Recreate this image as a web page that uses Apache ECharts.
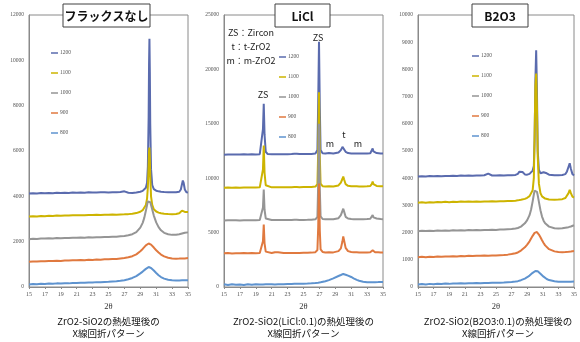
<!DOCTYPE html>
<html><head><meta charset="utf-8">
<script src="https://cdn.jsdelivr.net/npm/echarts@6/dist/echarts.min.js"></script>
<style>html,body{margin:0;padding:0;background:#fff}#c{width:580px;height:342px}</style>
</head><body><div id="c"></div>
<script>
const temps = ['1200','1100','1000','900','800'];
const xTicks = [15,17,19,21,23,25,27,29,31,33,35];
const panelTitles = ['フラックスなし','LiCl','B2O3'];
const captionLine1 = ['ZrO2-SiO2の熱処理後の','ZrO2-SiO2(LiCl:0.1)の熱処理後の','ZrO2-SiO2(B2O3:0.1)の熱処理後の'];
const captionLine2 = 'X線回折パターン';
const yMax = [12000, 25000, 10000];
const yStep = [2000, 5000, 1000];

// Panel 1: no flux
const p1X = [15,15.5,16,16.5,17,17.5,18,18.5,19,19.5,20,20.5,21,21.5,22,22.5,23,23.5,24,24.5,25,25.5,26,26.5,27,27.5,28,28.5,29,29.3,29.5,29.7,29.85,29.95,30.05,30.1,30.15,30.2,30.25,30.35,30.5,30.7,31,31.3,31.6,32,32.5,33,33.5,33.9,34.1,34.25,34.35,34.45,34.6,34.8,35];
const p1_1200 = [4130,4140,4125,4145,4135,4150,4140,4155,4145,4160,4150,4165,4155,4170,4160,4175,4165,4170,4175,4180,4170,4185,4175,4190,4220,4160,4150,4170,4200,4240,4290,4380,4600,5300,7500,9800,10950,9500,7200,5200,4500,4320,4250,4220,4200,4190,4180,4175,4180,4200,4300,4550,4700,4600,4300,4180,4170];
const p1_1100 = [3110,3120,3110,3130,3125,3140,3130,3150,3140,3155,3150,3165,3160,3170,3165,3180,3175,3185,3180,3190,3185,3195,3190,3200,3205,3215,3230,3260,3320,3390,3470,3620,3900,4400,5400,6000,6150,5700,4900,4000,3620,3430,3330,3280,3250,3230,3220,3215,3225,3250,3300,3370,3390,3360,3310,3300,3310];
const p1_1000 = [2110,2130,2120,2140,2135,2150,2145,2160,2150,2165,2160,2175,2170,2180,2175,2190,2185,2200,2195,2210,2205,2215,2220,2235,2250,2280,2330,2420,2620,2830,3050,3360,3620,3780,3850,3860,3840,3800,3740,3620,3420,3150,2850,2640,2500,2390,2330,2300,2310,2330,2350,2360,2370,2380,2390,2400,2410];
const p1_900 = [1110,1130,1120,1140,1135,1150,1145,1160,1150,1170,1165,1180,1175,1190,1185,1200,1195,1210,1205,1220,1225,1235,1240,1260,1280,1310,1360,1440,1580,1680,1760,1840,1880,1905,1920,1920,1915,1910,1900,1870,1820,1740,1620,1520,1430,1350,1290,1260,1250,1255,1250,1260,1255,1265,1260,1270,1275];
const p1_800 = [110,130,120,140,130,150,140,160,150,170,160,180,175,190,185,200,195,215,210,225,230,245,255,275,300,340,400,480,600,680,740,800,840,865,880,880,875,870,860,840,800,730,620,520,440,370,320,295,285,290,285,295,290,300,295,305,300];

// Panel 2: LiCl
const p2X = [15,15.5,16,16.5,17,17.5,18,18.5,19,19.5,19.75,19.9,20,20.1,20.25,20.5,21,21.4,21.6,21.8,22,22.5,23,23.5,23.85,24,24.15,24.5,25,25.5,26,26.5,26.75,26.85,26.95,27.05,27.15,27.4,27.75,28,28.2,28.4,28.75,29,29.4,29.7,29.9,30,30.1,30.3,30.6,31,31.3,31.5,31.7,32,32.5,33,33.4,33.6,33.7,33.8,34,34.2,34.4,34.7,35];
const p2_1200 = [12160,12180,12170,12185,12175,12190,12180,12195,12185,12210,12380,14500,16850,14000,12430,12220,12200,12210,12205,12200,12205,12210,12205,12215,12240,12360,12240,12220,12225,12230,12235,12270,12580,17000,22550,16500,12580,12300,12270,12270,12320,12270,12270,12290,12360,12580,12880,13020,12830,12430,12310,12280,12280,12320,12280,12270,12270,12280,12300,12480,12730,12460,12320,12310,12290,12280,12270];
const p2_1100 = [9120,9140,9125,9135,9130,9145,9135,9150,9140,9160,9300,10800,13000,10500,9350,9180,9160,9170,9165,9160,9165,9170,9160,9175,9180,9220,9180,9175,9180,9185,9190,9230,9450,12500,17900,12000,9500,9270,9240,9230,9260,9230,9240,9260,9330,9600,9950,10150,9900,9450,9300,9260,9250,9260,9250,9240,9245,9250,9280,9480,9700,9450,9300,9290,9270,9260,9250];
const p2_1000 = [6120,6140,6125,6135,6120,6140,6130,6145,6135,6160,6250,7300,8950,7100,6300,6170,6150,6160,6170,6155,6150,6160,6155,6165,6180,6270,6180,6160,6165,6170,6180,6220,6450,9500,15000,9000,6500,6250,6220,6210,6230,6210,6220,6250,6320,6600,7000,7200,6950,6450,6290,6240,6230,6240,6230,6220,6230,6240,6270,6450,6620,6400,6280,6300,6250,6240,6230];
const p2_900 = [3100,3120,3090,3110,3100,3120,3105,3115,3110,3130,3200,4200,5750,4000,3250,3130,3120,3200,3330,3200,3130,3120,3130,3125,3130,3160,3130,3130,3140,3150,3160,3200,3400,5500,9500,5200,3450,3220,3180,3170,3190,3170,3180,3220,3300,3550,4200,4650,4300,3600,3300,3220,3200,3210,3190,3180,3170,3175,3200,3300,3380,3280,3200,3260,3190,3170,3180];
const p2_800 = [250,180,260,200,240,190,260,210,250,220,240,230,250,235,245,230,260,240,255,250,270,260,280,275,290,285,295,300,310,320,340,370,390,400,410,420,430,470,530,580,630,690,800,880,1010,1100,1160,1200,1170,1130,1050,920,800,720,660,580,490,440,430,430,435,430,440,445,450,460,470];

// Panel 3: B2O3
const p3X = [15,15.5,16,16.5,17,17.5,18,18.5,19,19.5,20,20.5,21,21.5,22,22.5,23,23.5,24,24.5,25,25.5,26,26.5,27,27.5,27.8,28,28.2,28.4,28.7,29,29.3,29.5,29.7,29.85,29.95,30.05,30.15,30.25,30.35,30.5,30.7,30.9,31.1,31.3,31.5,31.8,32,32.5,33,33.5,33.9,34.1,34.3,34.45,34.6,34.8,35];
const p3_1200 = [4060,4075,4065,4080,4070,4085,4075,4085,4080,4090,4085,4095,4090,4095,4090,4100,4095,4110,4170,4100,4100,4105,4100,4110,4105,4120,4160,4240,4300,4230,4140,4130,4160,4200,4280,4450,5400,7600,8700,7200,5000,4300,4180,4180,4220,4240,4180,4130,4115,4110,4110,4120,4150,4250,4420,4550,4350,4150,4100];
const p3_1100 = [3100,3115,3100,3120,3110,3125,3115,3130,3120,3135,3125,3140,3130,3145,3135,3140,3135,3145,3140,3150,3145,3150,3150,3160,3165,3175,3185,3195,3205,3215,3240,3280,3340,3400,3560,4000,5600,7400,7850,6600,4800,3800,3450,3330,3280,3250,3235,3220,3215,3210,3215,3230,3270,3330,3450,3570,3450,3320,3290];
const p3_1000 = [2050,2065,2055,2070,2060,2075,2065,2080,2070,2085,2075,2090,2080,2095,2085,2095,2090,2100,2095,2105,2100,2110,2110,2120,2130,2150,2170,2190,2220,2260,2340,2460,2640,2850,3150,3400,3540,3590,3580,3500,3370,3130,2820,2590,2440,2340,2280,2220,2190,2160,2150,2160,2180,2190,2200,2210,2225,2245,2270];
const p3_900 = [1090,1110,1095,1115,1105,1120,1110,1125,1120,1130,1125,1140,1135,1145,1140,1150,1145,1155,1150,1160,1160,1170,1175,1190,1210,1240,1270,1300,1340,1380,1460,1560,1680,1780,1880,1950,1990,2020,2030,2020,1990,1930,1830,1720,1620,1530,1460,1390,1360,1310,1290,1280,1285,1290,1295,1300,1305,1310,1320];
const p3_800 = [90,110,95,115,100,120,110,125,115,130,125,135,130,140,135,145,140,150,150,155,155,160,165,175,185,200,215,230,250,270,310,360,420,470,520,555,575,590,595,590,575,545,490,430,380,330,295,255,235,210,195,190,190,190,195,190,195,195,200];

const colorMap = {'1200':'#5A6BAE','1100':'#CDB400','1000':'#959595','900':'#E0793F','800':'#5E93CF'};
const panels = [
  {x:p1X, ys:[p1_1200,p1_1100,p1_1000,p1_900,p1_800]},
  {x:p2X, ys:[p2_1200,p2_1100,p2_1000,p2_900,p2_800]},
  {x:p3X, ys:[p3_1200,p3_1100,p3_1000,p3_900,p3_800]}
];

const gridPos = [
  {left:29, top:15, width:159, height:272},
  {left:224, top:15, width:159, height:272},
  {left:418, top:15, width:160, height:272}
];
const legendPos = [{left:51, top:49},{left:279, top:53},{left:472, top:52}];
const centers = [108.5, 303.5, 498];
const boxes = [{x:63,w:87},{x:275,w:55},{x:472,w:56}];

const series = [];
panels.forEach((p, pi) => {
  temps.forEach((t, ti) => {
    series.push({
      type:'line', name:t, xAxisIndex:pi, yAxisIndex:pi,
      data: p.x.map((xv, i) => [xv, p.ys[ti][i]]),
      showSymbol:false, symbol:'none', smooth:false,
      lineStyle:{width:2, color:colorMap[t]}, itemStyle:{color:colorMap[t]},
      emphasis:{disabled:true}
    });
  });
});

const axisFont = 'Liberation Serif';
const xAxes = gridPos.map((g, i) => ({
  type:'value', gridIndex:i, min:15, max:35,
  axisLine:{show:true, lineStyle:{color:'#8a8a8a', width:1}},
  axisTick:{show:true, customValues:xTicks, length:2, lineStyle:{color:'#8a8a8a'}},
  axisLabel:{customValues:xTicks, fontSize:6, color:'#555', fontFamily:axisFont, margin:4, formatter:v=>String(v)},
  splitLine:{show:false},
  name:'2θ', nameLocation:'middle', nameGap:15,
  nameTextStyle:{fontSize:8.5, color:'#333', fontFamily:axisFont}
}));
const yAxes = gridPos.map((g, i) => ({
  type:'value', gridIndex:i, min:0, max:yMax[i], interval:yStep[i],
  axisLine:{show:true, lineStyle:{color:'#8a8a8a', width:1}},
  axisTick:{show:false},
  axisLabel:{fontSize:5.5, color:'#555', fontFamily:axisFont, margin:5, formatter:v=>String(v)},
  splitLine:{show:false}
}));

const graphics = [];
boxes.forEach((b, i) => {
  graphics.push({type:'rect', shape:{x:b.x, y:4, width:b.w, height:23}, style:{fill:'#fff', stroke:'#404040', lineWidth:1}, z:100});
  graphics.push({type:'text', x:b.x + b.w/2, y:16, z:101, style:{text:panelTitles[i], fontSize:12, fontWeight:'bold', fontFamily:'Noto Sans CJK JP', fill:'#111', align:'center', verticalAlign:'middle', textAlign:'center', textVerticalAlign:'middle'}});
  graphics.push({type:'text', x:centers[i], y:321, z:101, style:{text:captionLine1[i], fontSize:9.5, fontFamily:'Noto Sans CJK JP', fill:'#111', align:'center', verticalAlign:'middle', textAlign:'center', textVerticalAlign:'middle'}});
  graphics.push({type:'text', x:centers[i], y:333, z:101, style:{text:captionLine2, fontSize:9.5, fontFamily:'Noto Sans CJK JP', fill:'#111', align:'center', verticalAlign:'middle', textAlign:'center', textVerticalAlign:'middle'}});
});
const notes = [
  {t:'ZS：Zircon', x:251, y:33, s:9},
  {t:'t：t-ZrO2', x:251, y:47, s:9},
  {t:'m：m-ZrO2', x:251, y:61, s:9},
  {t:'ZS', x:263, y:95, s:9},
  {t:'ZS', x:318, y:38, s:9},
  {t:'m', x:330, y:144, s:9},
  {t:'t', x:344, y:135, s:9},
  {t:'m', x:358, y:144, s:9}
];
notes.forEach(n => graphics.push({type:'text', x:n.x, y:n.y, z:101, style:{text:n.t, fontSize:n.s, fontFamily:'Noto Sans CJK JP', fill:'#222', align:'center', verticalAlign:'middle', textAlign:'center', textVerticalAlign:'middle'}}));

const legends = legendPos.map(lp => ({
  data:temps, orient:'vertical', left:lp.left, top:lp.top, padding:0,
  icon:'rect', itemWidth:7, itemHeight:1.5, itemGap:12, selectedMode:false,
  textStyle:{fontSize:5.5, color:'#555', fontFamily:axisFont, lineHeight:8, padding:[0,0,0,-3]}
}));

const chart = echarts.init(document.getElementById('c'), null, {renderer:'canvas'});
chart.setOption({
  animation:false,
  backgroundColor:'#fff',
  grid: gridPos.map(g => Object.assign({show:true, borderColor:'#8a8a8a', borderWidth:1, containLabel:false}, g)),
  xAxis:xAxes, yAxis:yAxes, legend:legends, series:series, graphic:graphics
});
</script></body></html>
